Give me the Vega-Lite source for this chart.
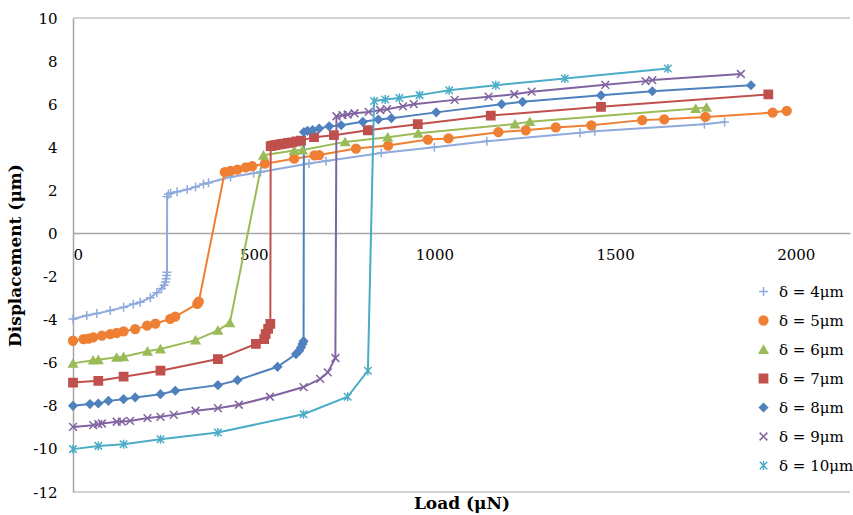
{
  "$schema": "https://vega.github.io/schema/vega-lite/v6.json",
  "width": 777,
  "height": 474,
  "autosize": {"type": "none"},
  "padding": {"left": 73, "top": 18, "right": 3, "bottom": 23},
  "background": "white",
  "config": {"font": "DejaVu Serif", "view": {"stroke": null}},
  "datasets": {
    "pts": [
      {"d":"δ = 4μm","x":0,"y":-3.97},{"d":"δ = 4μm","x":38,"y":-3.81},{"d":"δ = 4μm","x":66,"y":-3.72},{"d":"δ = 4μm","x":103,"y":-3.58},{"d":"δ = 4μm","x":140,"y":-3.43},{"d":"δ = 4μm","x":167,"y":-3.28},{"d":"δ = 4μm","x":186,"y":-3.19},{"d":"δ = 4μm","x":214,"y":-2.98},{"d":"δ = 4μm","x":232,"y":-2.75},{"d":"δ = 4μm","x":245,"y":-2.55},{"d":"δ = 4μm","x":252,"y":-2.4},{"d":"δ = 4μm","x":256,"y":-2.25},{"d":"δ = 4μm","x":258,"y":-2.1},{"d":"δ = 4μm","x":259,"y":-1.95},{"d":"δ = 4μm","x":260,"y":-1.8},{"d":"δ = 4μm","x":260.5,"y":1.7},{"d":"δ = 4μm","x":264,"y":1.82},{"d":"δ = 4μm","x":270,"y":1.87},{"d":"δ = 4μm","x":288,"y":1.94},{"d":"δ = 4μm","x":316,"y":2.04},{"d":"δ = 4μm","x":339,"y":2.16},{"d":"δ = 4μm","x":361,"y":2.3},{"d":"δ = 4μm","x":375,"y":2.35},{"d":"δ = 4μm","x":436,"y":2.62},{"d":"δ = 4μm","x":500,"y":2.79},{"d":"δ = 4μm","x":519,"y":2.85},{"d":"δ = 4μm","x":653,"y":3.25},{"d":"δ = 4μm","x":700,"y":3.36},{"d":"δ = 4μm","x":853,"y":3.73},{"d":"δ = 4μm","x":1000,"y":4.0},{"d":"δ = 4μm","x":1145,"y":4.28},{"d":"δ = 4μm","x":1403,"y":4.67},{"d":"δ = 4μm","x":1444,"y":4.74},{"d":"δ = 4μm","x":1747,"y":5.07},{"d":"δ = 4μm","x":1803,"y":5.17},
      {"d":"δ = 5μm","x":0,"y":-4.98},{"d":"δ = 5μm","x":29,"y":-4.9},{"d":"δ = 5μm","x":43,"y":-4.88},{"d":"δ = 5μm","x":56,"y":-4.82},{"d":"δ = 5μm","x":80,"y":-4.74},{"d":"δ = 5μm","x":103,"y":-4.67},{"d":"δ = 5μm","x":121,"y":-4.62},{"d":"δ = 5μm","x":140,"y":-4.54},{"d":"δ = 5μm","x":172,"y":-4.44},{"d":"δ = 5μm","x":205,"y":-4.28},{"d":"δ = 5μm","x":228,"y":-4.18},{"d":"δ = 5μm","x":269,"y":-3.97},{"d":"δ = 5μm","x":283,"y":-3.86},{"d":"δ = 5μm","x":344,"y":-3.27},{"d":"δ = 5μm","x":348,"y":-3.17},{"d":"δ = 5μm","x":420,"y":2.85},{"d":"δ = 5μm","x":436,"y":2.9},{"d":"δ = 5μm","x":455,"y":2.96},{"d":"δ = 5μm","x":478,"y":3.07},{"d":"δ = 5μm","x":496,"y":3.12},{"d":"δ = 5μm","x":531,"y":3.24},{"d":"δ = 5μm","x":612,"y":3.47},{"d":"δ = 5μm","x":668,"y":3.62},{"d":"δ = 5μm","x":681,"y":3.64},{"d":"δ = 5μm","x":783,"y":3.94},{"d":"δ = 5μm","x":872,"y":4.08},{"d":"δ = 5μm","x":982,"y":4.36},{"d":"δ = 5μm","x":1039,"y":4.41},{"d":"δ = 5μm","x":1177,"y":4.7},{"d":"δ = 5μm","x":1253,"y":4.79},{"d":"δ = 5μm","x":1336,"y":4.92},{"d":"δ = 5μm","x":1434,"y":5.02},{"d":"δ = 5μm","x":1575,"y":5.26},{"d":"δ = 5μm","x":1636,"y":5.3},{"d":"δ = 5μm","x":1750,"y":5.41},{"d":"δ = 5μm","x":1936,"y":5.61},{"d":"δ = 5μm","x":1975,"y":5.69},
      {"d":"δ = 6μm","x":0,"y":-6.03},{"d":"δ = 6μm","x":56,"y":-5.88},{"d":"δ = 6μm","x":70,"y":-5.86},{"d":"δ = 6μm","x":121,"y":-5.75},{"d":"δ = 6μm","x":140,"y":-5.72},{"d":"δ = 6μm","x":206,"y":-5.47},{"d":"δ = 6μm","x":242,"y":-5.36},{"d":"δ = 6μm","x":339,"y":-4.95},{"d":"δ = 6μm","x":401,"y":-4.5},{"d":"δ = 6μm","x":434,"y":-4.15},{"d":"δ = 6μm","x":527,"y":3.63},{"d":"δ = 6μm","x":612,"y":3.85},{"d":"δ = 6μm","x":635,"y":3.87},{"d":"δ = 6μm","x":753,"y":4.25},{"d":"δ = 6μm","x":871,"y":4.47},{"d":"δ = 6μm","x":955,"y":4.65},{"d":"δ = 6μm","x":1223,"y":5.08},{"d":"δ = 6μm","x":1264,"y":5.19},{"d":"δ = 6μm","x":1723,"y":5.8},{"d":"δ = 6μm","x":1753,"y":5.85},
      {"d":"δ = 7μm","x":0,"y":-6.92},{"d":"δ = 7μm","x":70,"y":-6.84},{"d":"δ = 7μm","x":140,"y":-6.65},{"d":"δ = 7μm","x":242,"y":-6.37},{"d":"δ = 7μm","x":401,"y":-5.83},{"d":"δ = 7μm","x":506,"y":-5.13},{"d":"δ = 7μm","x":529,"y":-4.9},{"d":"δ = 7μm","x":533,"y":-4.67},{"d":"δ = 7μm","x":540,"y":-4.43},{"d":"δ = 7μm","x":546,"y":-4.2},{"d":"δ = 7μm","x":547,"y":4.05},{"d":"δ = 7μm","x":553,"y":4.08},{"d":"δ = 7μm","x":560,"y":4.1},{"d":"δ = 7μm","x":568,"y":4.12},{"d":"δ = 7μm","x":576,"y":4.15},{"d":"δ = 7μm","x":585,"y":4.17},{"d":"δ = 7μm","x":595,"y":4.2},{"d":"δ = 7μm","x":606,"y":4.23},{"d":"δ = 7μm","x":618,"y":4.27},{"d":"δ = 7μm","x":631,"y":4.31},{"d":"δ = 7μm","x":667,"y":4.47},{"d":"δ = 7μm","x":722,"y":4.56},{"d":"δ = 7μm","x":816,"y":4.79},{"d":"δ = 7μm","x":954,"y":5.07},{"d":"δ = 7μm","x":1156,"y":5.47},{"d":"δ = 7μm","x":1461,"y":5.88},{"d":"δ = 7μm","x":1924,"y":6.45},
      {"d":"δ = 8μm","x":0,"y":-8.0},{"d":"δ = 8μm","x":47,"y":-7.92},{"d":"δ = 8μm","x":70,"y":-7.89},{"d":"δ = 8μm","x":98,"y":-7.77},{"d":"δ = 8μm","x":140,"y":-7.69},{"d":"δ = 8μm","x":172,"y":-7.61},{"d":"δ = 8μm","x":242,"y":-7.46},{"d":"δ = 8μm","x":283,"y":-7.3},{"d":"δ = 8μm","x":401,"y":-7.04},{"d":"δ = 8μm","x":455,"y":-6.81},{"d":"δ = 8μm","x":566,"y":-6.19},{"d":"δ = 8μm","x":617,"y":-5.6},{"d":"δ = 8μm","x":626,"y":-5.44},{"d":"δ = 8μm","x":631,"y":-5.29},{"d":"δ = 8μm","x":635,"y":-5.13},{"d":"δ = 8μm","x":638,"y":-5.0},{"d":"δ = 8μm","x":639,"y":4.71},{"d":"δ = 8μm","x":649,"y":4.76},{"d":"δ = 8μm","x":663,"y":4.8},{"d":"δ = 8μm","x":681,"y":4.87},{"d":"δ = 8μm","x":709,"y":4.97},{"d":"δ = 8μm","x":742,"y":5.02},{"d":"δ = 8μm","x":802,"y":5.18},{"d":"δ = 8μm","x":845,"y":5.29},{"d":"δ = 8μm","x":881,"y":5.35},{"d":"δ = 8μm","x":1005,"y":5.62},{"d":"δ = 8μm","x":1186,"y":6.0},{"d":"δ = 8μm","x":1244,"y":6.11},{"d":"δ = 8μm","x":1461,"y":6.41},{"d":"δ = 8μm","x":1603,"y":6.6},{"d":"δ = 8μm","x":1876,"y":6.88},
      {"d":"δ = 9μm","x":0,"y":-8.98},{"d":"δ = 9μm","x":56,"y":-8.9},{"d":"δ = 9μm","x":70,"y":-8.85},{"d":"δ = 9μm","x":80,"y":-8.82},{"d":"δ = 9μm","x":121,"y":-8.74},{"d":"δ = 9μm","x":135,"y":-8.73},{"d":"δ = 9μm","x":158,"y":-8.7},{"d":"δ = 9μm","x":206,"y":-8.57},{"d":"δ = 9μm","x":242,"y":-8.51},{"d":"δ = 9μm","x":279,"y":-8.42},{"d":"δ = 9μm","x":339,"y":-8.23},{"d":"δ = 9μm","x":401,"y":-8.11},{"d":"δ = 9μm","x":459,"y":-7.95},{"d":"δ = 9μm","x":545,"y":-7.58},{"d":"δ = 9μm","x":638,"y":-7.13},{"d":"δ = 9μm","x":684,"y":-6.75},{"d":"δ = 9μm","x":705,"y":-6.45},{"d":"δ = 9μm","x":726,"y":-5.78},{"d":"δ = 9μm","x":729,"y":5.44},{"d":"δ = 9μm","x":746,"y":5.49},{"d":"δ = 9μm","x":760,"y":5.52},{"d":"δ = 9μm","x":779,"y":5.58},{"d":"δ = 9μm","x":818,"y":5.64},{"d":"δ = 9μm","x":850,"y":5.73},{"d":"δ = 9μm","x":869,"y":5.77},{"d":"δ = 9μm","x":913,"y":5.9},{"d":"δ = 9μm","x":943,"y":6.0},{"d":"δ = 9μm","x":1056,"y":6.2},{"d":"δ = 9μm","x":1150,"y":6.35},{"d":"δ = 9μm","x":1221,"y":6.46},{"d":"δ = 9μm","x":1269,"y":6.58},{"d":"δ = 9μm","x":1473,"y":6.9},{"d":"δ = 9μm","x":1584,"y":7.07},{"d":"δ = 9μm","x":1603,"y":7.12},{"d":"δ = 9μm","x":1848,"y":7.4},
      {"d":"δ = 10μm","x":0,"y":-10.01},{"d":"δ = 10μm","x":70,"y":-9.86},{"d":"δ = 10μm","x":140,"y":-9.78},{"d":"δ = 10μm","x":242,"y":-9.55},{"d":"δ = 10μm","x":401,"y":-9.24},{"d":"δ = 10μm","x":638,"y":-8.39},{"d":"δ = 10μm","x":760,"y":-7.58},{"d":"δ = 10μm","x":816,"y":-6.37},{"d":"δ = 10μm","x":833,"y":6.15},{"d":"δ = 10μm","x":864,"y":6.22},{"d":"δ = 10μm","x":903,"y":6.29},{"d":"δ = 10μm","x":959,"y":6.42},{"d":"δ = 10μm","x":1041,"y":6.65},{"d":"δ = 10μm","x":1170,"y":6.88},{"d":"δ = 10μm","x":1361,"y":7.19},{"d":"δ = 10μm","x":1646,"y":7.66}
    ],
    "frame": [{"y": 10}, {"y": -12}]
  },
  "resolve": {"axis": {"x": "independent"}},
  "layer": [
    {
      "data": {"name": "frame"},
      "mark": {"type": "rule", "color": "#A6A6A6", "strokeWidth": 1},
      "encoding": {"y": {"field": "y", "type": "quantitative"}}
    },
    {
      "data": {"name": "pts"},
      "mark": {"type": "line", "strokeWidth": 2},
      "encoding": {
        "x": {"field": "x", "type": "quantitative",
          "scale": {"domain": [0, 2150], "nice": false, "zero": false},
          "axis": {"orient": "bottom", "offset": -259, "values": [0, 500, 1000, 1500, 2000], "format": "d", "title": null, "grid": false, "ticks": false, "domainColor": "#A6A6A6", "domainWidth": 1.5, "labelFontSize": 15, "labelColor": "#000000", "labelPadding": 14, "labelFont": "DejaVu Serif"}},
        "y": {"field": "y", "type": "quantitative",
          "scale": {"domain": [-12, 10], "nice": false, "zero": false},
          "axis": {"values": [-12, -10, -8, -6, -4, -2, 0, 2, 4, 6, 8, 10], "labelExpr": "datum.value < 0 ? '-' + abs(datum.value) : '' + datum.value", "grid": false, "ticks": false, "domainColor": "#A6A6A6", "domainWidth": 1.5, "labelFontSize": 15, "labelColor": "#000000", "labelPadding": 16, "labelFont": "DejaVu Serif", "title": "Displacement (μm)", "titleFontSize": 17, "titleFontWeight": "bold", "titleColor": "#000000", "titleFont": "DejaVu Serif", "titlePadding": 8}},
        "color": {"field": "d", "type": "nominal",
          "scale": {"domain": ["δ = 4μm","δ = 5μm","δ = 6μm","δ = 7μm","δ = 8μm","δ = 9μm","δ = 10μm"], "range": ["#8FAADC","#EE7F33","#9BBB59","#C0504D","#4F81BD","#8064A2","#4BACC6"]},
          "legend": {"title": null, "orient": "none", "legendX": 683, "legendY": 266, "labelFontSize": 15, "labelFont": "DejaVu Serif", "labelColor": "#000000", "rowPadding": 13, "labelOffset": 8, "labelLimit": 200, "symbolStrokeWidth": 1.5}}
      }
    },
    {
      "data": {"name": "pts"},
      "mark": {"type": "point", "filled": true, "opacity": 1, "strokeWidth": 1.5},
      "encoding": {
        "x": {"field": "x", "type": "quantitative",
          "axis": {"orient": "bottom", "labels": false, "ticks": false, "domain": false, "grid": false, "title": "Load (μN)", "titleFontSize": 17, "titleFontWeight": "bold", "titleColor": "#000000", "titleFont": "DejaVu Serif", "titlePadding": 3}},
        "y": {"field": "y", "type": "quantitative"},
        "color": {"field": "d", "type": "nominal",
          "scale": {"domain": ["δ = 4μm","δ = 5μm","δ = 6μm","δ = 7μm","δ = 8μm","δ = 9μm","δ = 10μm"], "range": ["#8FAADC","#EE7F33","#9BBB59","#C0504D","#4F81BD","#8064A2","#4BACC6"]},
          "legend": {"title": null, "orient": "none", "legendX": 683, "legendY": 266, "labelFontSize": 15, "labelFont": "DejaVu Serif", "labelColor": "#000000", "rowPadding": 13, "labelOffset": 8, "labelLimit": 200, "symbolStrokeWidth": 1.5}},
        "stroke": {"field": "d", "type": "nominal",
          "scale": {"domain": ["δ = 4μm","δ = 5μm","δ = 6μm","δ = 7μm","δ = 8μm","δ = 9μm","δ = 10μm"], "range": ["#8FAADC","#EE7F33","#9BBB59","#C0504D","#4F81BD","#8064A2","#4BACC6"]}},
        "shape": {"field": "d", "type": "nominal",
          "scale": {"domain": ["δ = 4μm","δ = 5μm","δ = 6μm","δ = 7μm","δ = 8μm","δ = 9μm","δ = 10μm"], "range": ["M-1,0L1,0M0,-1L0,1","circle","triangle-up","square","diamond","M-1,-1L1,1M-1,1L1,-1","M-1,-1L1,1M-1,1L1,-1M0,-1.2L0,1.2"]}},
        "size": {"field": "d", "type": "nominal",
          "scale": {"domain": ["δ = 4μm","δ = 5μm","δ = 6μm","δ = 7μm","δ = 8μm","δ = 9μm","δ = 10μm"], "range": [81, 56, 100, 121, 110, 81, 100]}}
      }
    }
  ]
}
